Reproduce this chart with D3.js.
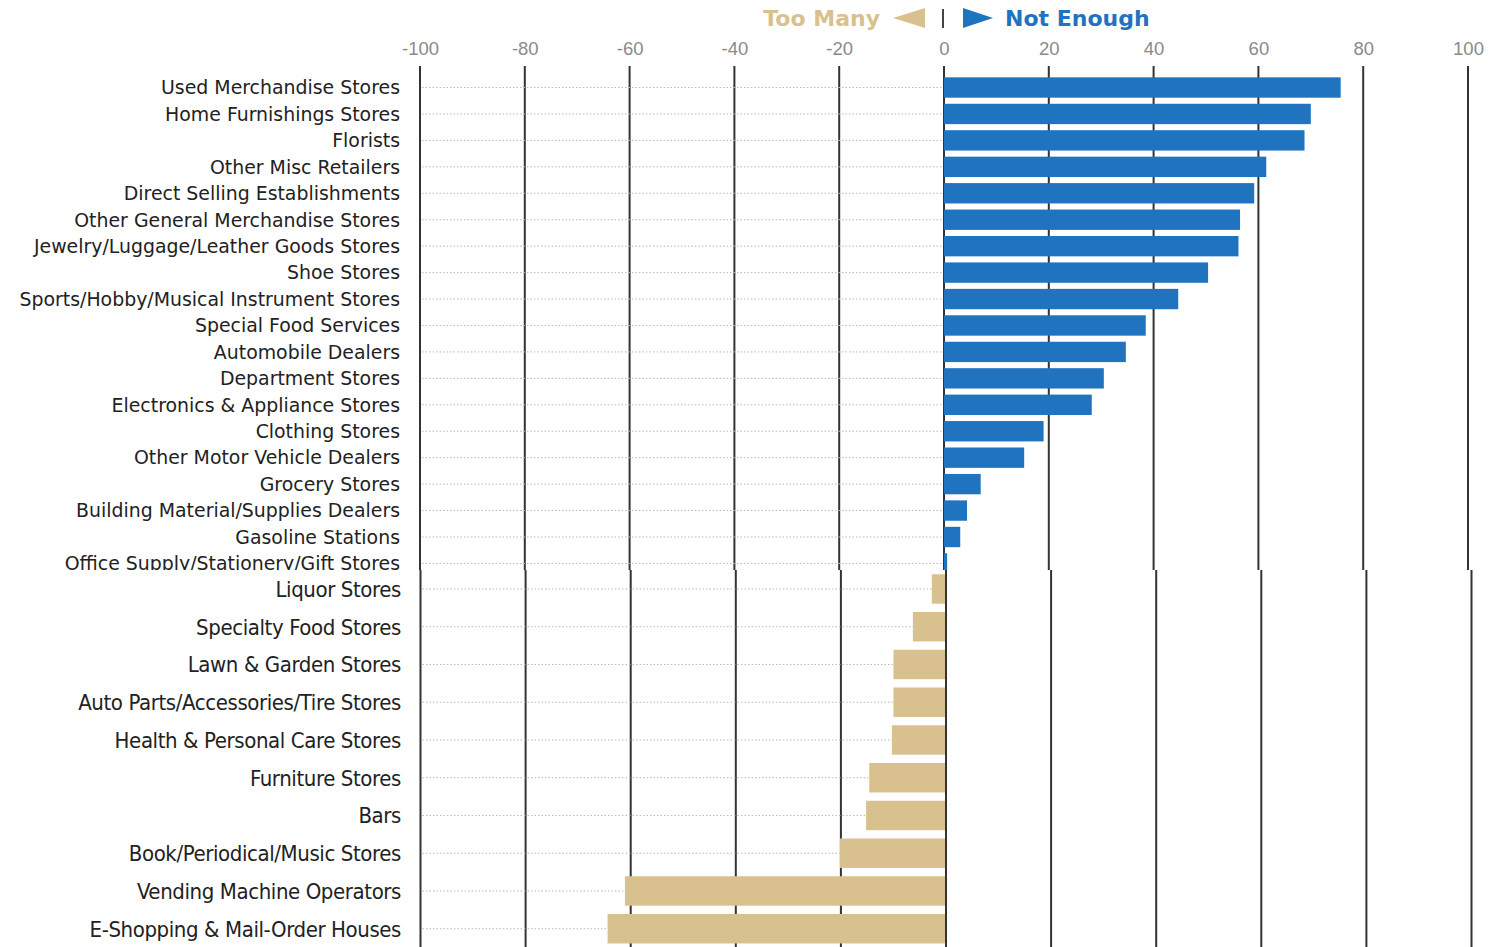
<!DOCTYPE html>
<html>
<head>
<meta charset="utf-8">
<script src="https://cdn.jsdelivr.net/npm/d3@7"></script>
<style>
  html, body { margin: 0; padding: 0; background: #fff; }
  svg { display: block; }
</style>
</head>
<body>
<svg id="chart" width="1492" height="947"></svg>
<script>
// ---- data ----
const topCategories = [
  "Used Merchandise Stores", "Home Furnishings Stores", "Florists", "Other Misc Retailers",
  "Direct Selling Establishments", "Other General Merchandise Stores",
  "Jewelry/Luggage/Leather Goods Stores", "Shoe Stores",
  "Sports/Hobby/Musical Instrument Stores", "Special Food Services",
  "Automobile Dealers", "Department Stores", "Electronics & Appliance Stores",
  "Clothing Stores", "Other Motor Vehicle Dealers", "Grocery Stores",
  "Building Material/Supplies Dealers", "Gasoline Stations",
  "Office Supply/Stationery/Gift Stores"
];
const topValues = [75.7, 70.0, 68.8, 61.5, 59.2, 56.5, 56.2, 50.4, 44.7, 38.5,
  34.7, 30.5, 28.2, 19.0, 15.3, 7.0, 4.4, 3.1, 0.6];

const bottomCategories = [
  "Liquor Stores", "Specialty Food Stores", "Lawn & Garden Stores",
  "Auto Parts/Accessories/Tire Stores", "Health & Personal Care Stores",
  "Furniture Stores", "Bars", "Book/Periodical/Music Stores",
  "Vending Machine Operators", "E-Shopping & Mail-Order Houses"
];
const bottomValues = [-2.7, -6.3, -10.0, -10.0, -10.3, -14.6, -15.2, -20.2, -61.1, -64.4];

const tickValues = [-100, -80, -60, -40, -20, 0, 20, 40, 60, 80, 100];
const legendLabels = ["Too Many", "Not Enough"];

// ---- styles ----
const BLUE = "#1f73bf";
const TAN = "#d8c18e";
const GRID = "#333";
const DOT = "#b9b9b9";

const svg = d3.select("#chart");
const seam = 570;

// scales
const xTop = d3.scaleLinear().domain([-100, 100]).range([420, 1468]);
const xBot = d3.scaleLinear().domain([-100, 100]).range([420.5, 1471.5]);

const yTop = d3.scaleBand().domain(topCategories).range([74.3, 74.3 + 26.44 * topCategories.length]).paddingInner(0.23).paddingOuter(0.115);
const yBot = d3.scaleBand().domain(bottomCategories).range([570.1, 570.1 + 37.75 * bottomCategories.length]).paddingInner(0.22).paddingOuter(0.11);

// clip for top section
svg.append("defs").append("clipPath").attr("id", "clipTop")
  .append("rect").attr("x", 0).attr("y", 0).attr("width", 1492).attr("height", seam);

// ---- legend ----
const lg = svg.append("g");
lg.append("text").attr("x", 880).attr("y", 26).attr("text-anchor", "end")
  .attr("font-family", "DejaVu Sans, Verdana, sans-serif").attr("font-weight", "bold")
  .attr("font-size", 22).attr("fill", TAN).text(legendLabels[0]);
lg.append("path").attr("d", "M893,18 L925,8 L925,28 Z").attr("fill", TAN);
lg.append("line").attr("x1", 943).attr("x2", 943).attr("y1", 9).attr("y2", 28)
  .attr("stroke", "#444").attr("stroke-width", 2);
lg.append("path").attr("d", "M963,8 L993,18 L963,28 Z").attr("fill", BLUE);
lg.append("text").attr("x", 1005).attr("y", 26).attr("text-anchor", "start")
  .attr("font-family", "DejaVu Sans, Verdana, sans-serif").attr("font-weight", "bold")
  .attr("font-size", 22).attr("fill", BLUE).text(legendLabels[1]);

// ---- axis tick labels ----
const axisG = svg.append("g").attr("transform", "translate(0,55)")
  .call(d3.axisTop(xTop).tickValues(tickValues).tickSize(0).tickPadding(0).tickFormat(d => String(d)));
axisG.select(".domain").remove();
axisG.selectAll("text").attr("font-family", "Liberation Sans, Arial, sans-serif")
  .attr("font-size", 18.5).attr("fill", "#8a8a8a").attr("dy", 0);

// ---- top section ----
const topG = svg.append("g").attr("clip-path", "url(#clipTop)");
topG.selectAll("line.vgrid").data(tickValues).join("line")
  .attr("class", "vgrid")
  .attr("x1", d => xTop(d)).attr("x2", d => xTop(d))
  .attr("y1", 66).attr("y2", seam)
  .attr("stroke", GRID).attr("stroke-width", 2);
topG.selectAll("line.hdot").data(topCategories).join("line")
  .attr("class", "hdot")
  .attr("x1", xTop(-100) + 2).attr("x2", xTop(0) - 2)
  .attr("y1", d => yTop(d) + yTop.bandwidth() / 2).attr("y2", d => yTop(d) + yTop.bandwidth() / 2)
  .attr("stroke", DOT).attr("stroke-width", 1).attr("stroke-dasharray", "1.5,2");
topG.selectAll("rect.bar").data(topValues).join("rect")
  .attr("class", "bar")
  .attr("x", d => xTop(Math.min(0, d)))
  .attr("width", d => Math.abs(xTop(d) - xTop(0)))
  .attr("y", (d, i) => yTop(topCategories[i]))
  .attr("height", yTop.bandwidth())
  .attr("fill", BLUE);
topG.selectAll("text.lab").data(topCategories).join("text")
  .attr("class", "lab")
  .attr("x", 400).attr("y", d => yTop(d) + yTop.bandwidth() / 2)
  .attr("dy", "0.36em").attr("text-anchor", "end")
  .attr("font-family", "DejaVu Sans, Verdana, sans-serif").attr("font-size", 18.9)
  .attr("fill", "#222").text(d => d);

// ---- bottom section ----
const botG = svg.append("g");
botG.selectAll("line.vgrid").data(tickValues).join("line")
  .attr("class", "vgrid")
  .attr("x1", d => xBot(d)).attr("x2", d => xBot(d))
  .attr("y1", seam).attr("y2", 947)
  .attr("stroke", GRID).attr("stroke-width", 2);
botG.selectAll("line.hdot").data(bottomCategories).join("line")
  .attr("class", "hdot")
  .attr("x1", xBot(-100) + 2).attr("x2", xBot(0) - 2)
  .attr("y1", d => yBot(d) + yBot.bandwidth() / 2).attr("y2", d => yBot(d) + yBot.bandwidth() / 2)
  .attr("stroke", DOT).attr("stroke-width", 1).attr("stroke-dasharray", "1.5,2");
botG.selectAll("rect.bar").data(bottomValues).join("rect")
  .attr("class", "bar")
  .attr("x", d => xBot(Math.min(0, d)))
  .attr("width", d => Math.abs(xBot(d) - xBot(0)))
  .attr("y", (d, i) => yBot(bottomCategories[i]))
  .attr("height", yBot.bandwidth())
  .attr("fill", TAN);
botG.selectAll("text.lab").data(bottomCategories).join("text")
  .attr("class", "lab")
  .attr("x", 401).attr("y", d => yBot(d) + yBot.bandwidth() / 2)
  .attr("dy", "0.36em").attr("text-anchor", "end")
  .attr("font-family", "Liberation Sans Narrow, DejaVu Sans Condensed, Arial Narrow, sans-serif")
  .attr("font-stretch", "condensed").attr("letter-spacing", -0.4)
  .attr("font-size", 22).attr("fill", "#222").text(d => d);
// zero line over bars (bottom)
botG.append("line").attr("x1", xBot(0)).attr("x2", xBot(0)).attr("y1", seam).attr("y2", 947)
  .attr("stroke", GRID).attr("stroke-width", 2);
</script>
</body>
</html>
